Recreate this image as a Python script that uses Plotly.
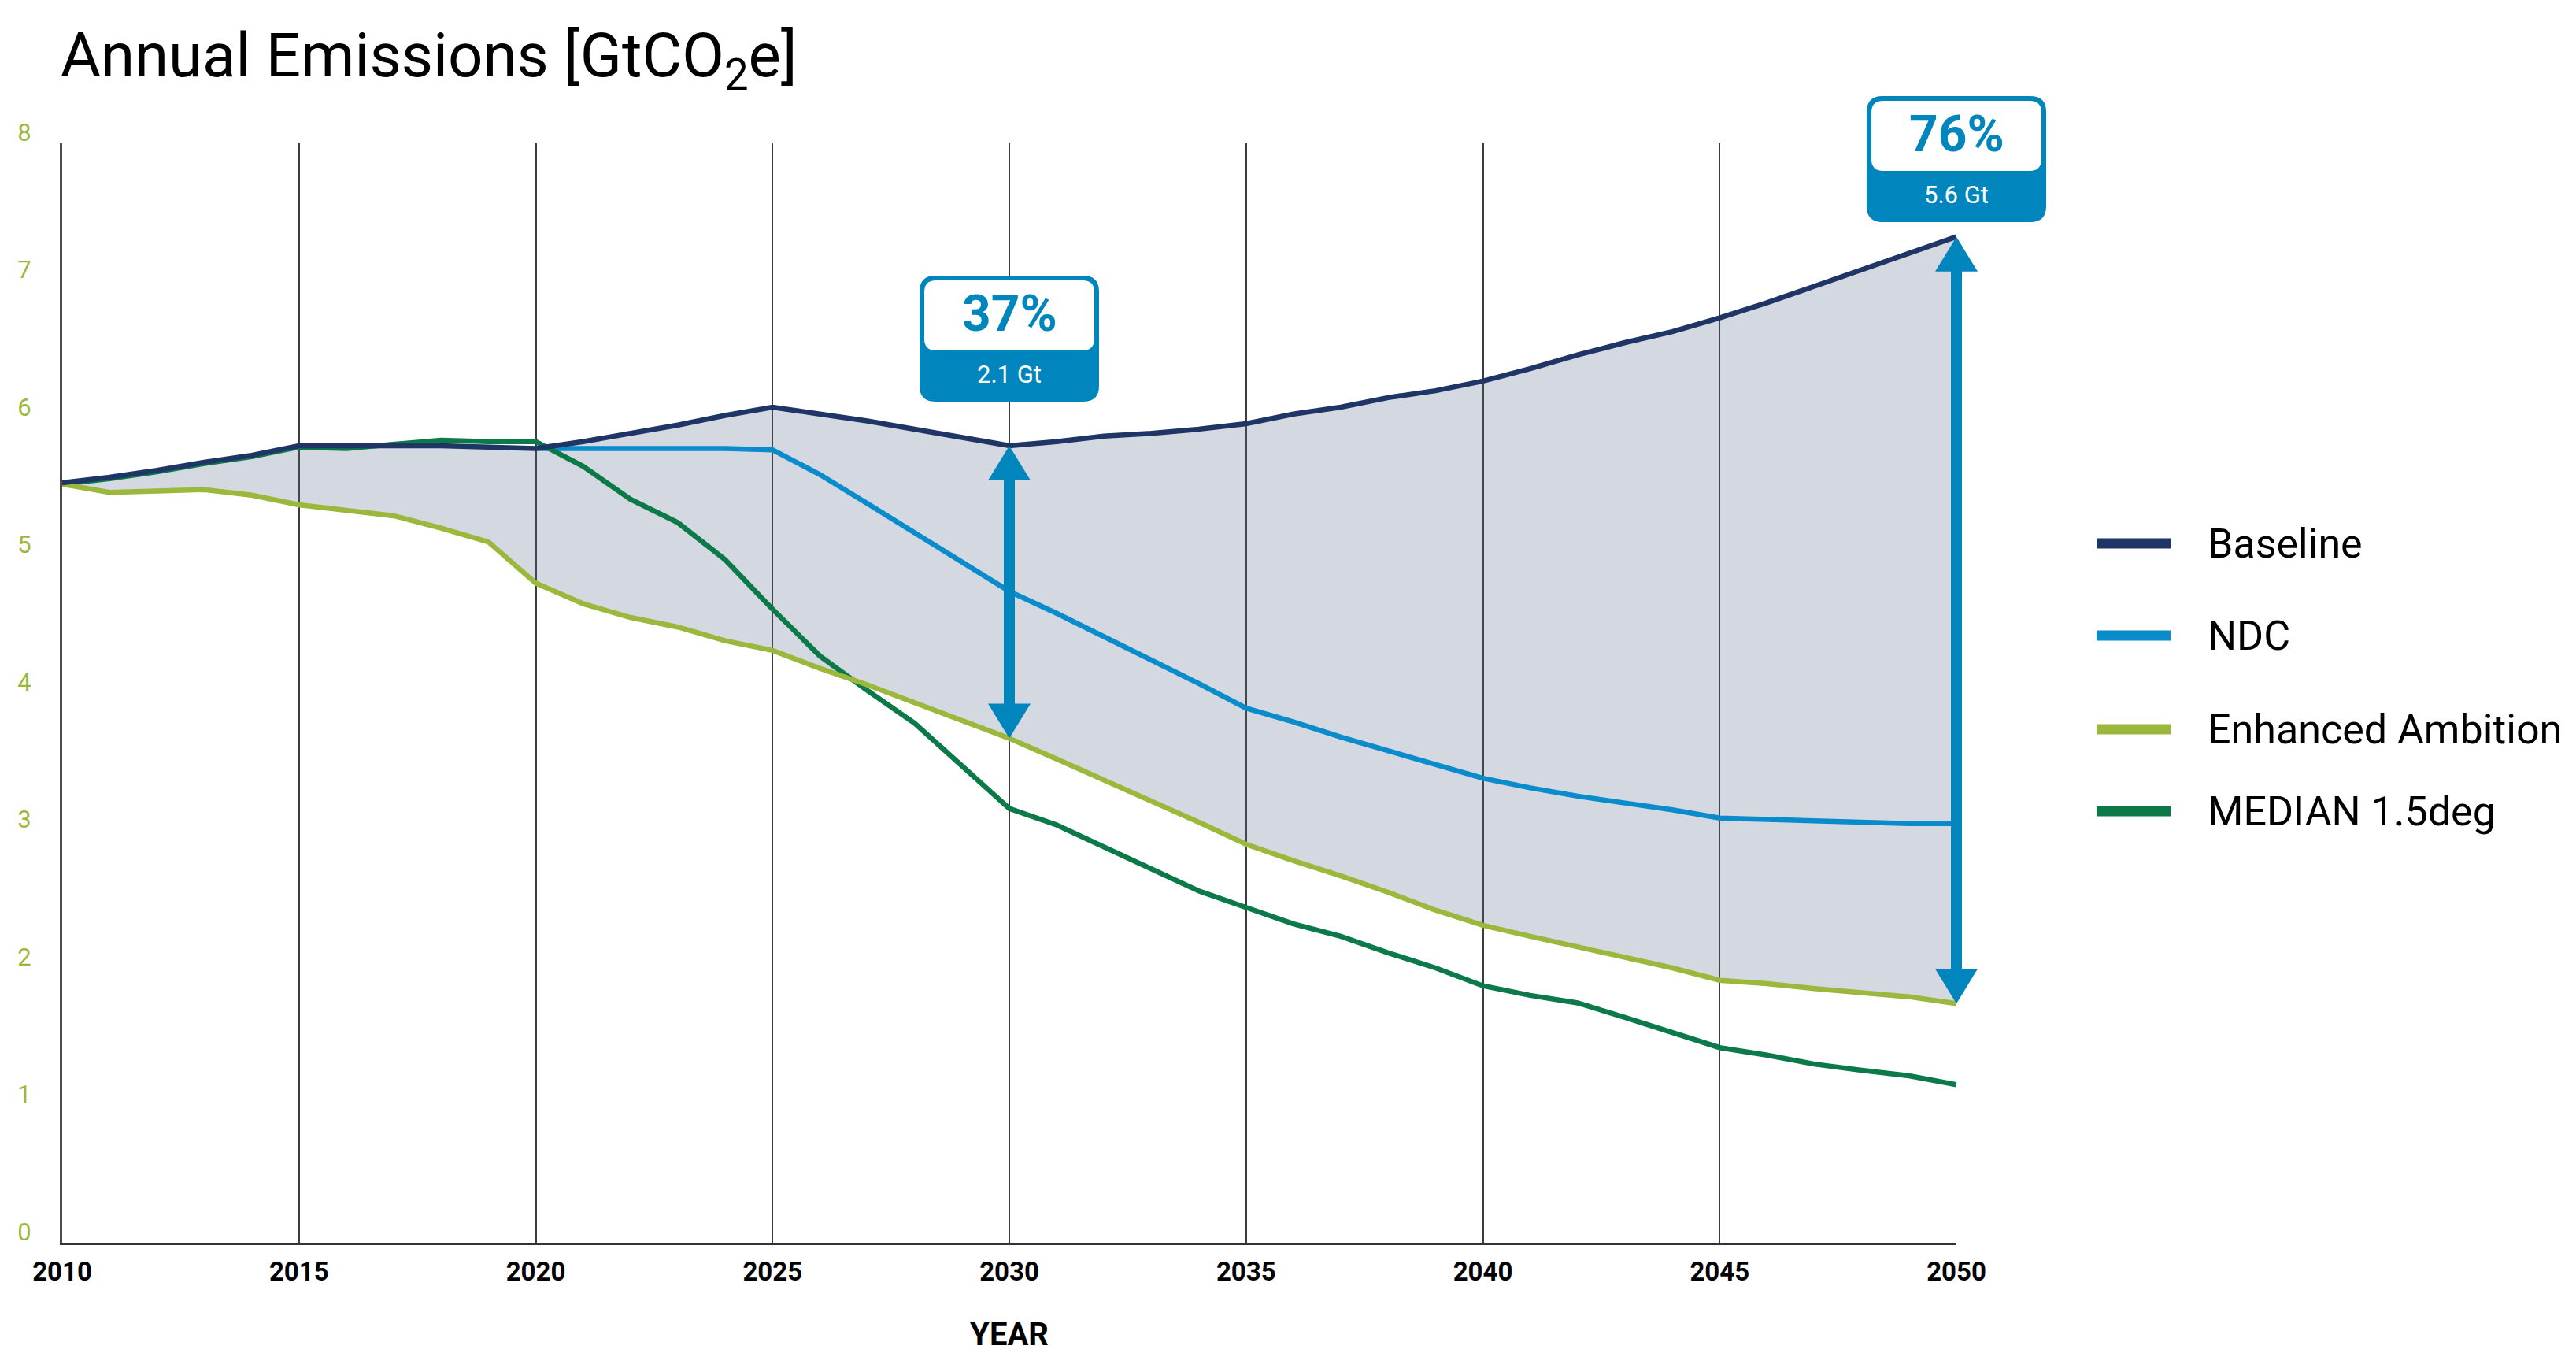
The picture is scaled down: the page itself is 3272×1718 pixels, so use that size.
import plotly.graph_objects as go

# ---- data -------------------------------------------------------------
years = list(range(2010, 2051))

baseline = [5.53, 5.57, 5.62, 5.68, 5.73, 5.80, 5.80, 5.80, 5.80, 5.79,
            5.78, 5.83, 5.89, 5.95, 6.02, 6.08, 6.03, 5.98, 5.92, 5.86,
            5.80, 5.83, 5.87, 5.89, 5.92, 5.96, 6.03, 6.08, 6.15, 6.20,
            6.27, 6.36, 6.46, 6.55, 6.63, 6.73, 6.84, 6.96, 7.08, 7.20,
            7.32]

enhanced = [5.52, 5.46, 5.47, 5.48, 5.44, 5.37, 5.33, 5.29, 5.20, 5.10,
            4.80, 4.65, 4.55, 4.48, 4.38, 4.31, 4.18, 4.06, 3.93, 3.80,
            3.67, 3.52, 3.37, 3.22, 3.06, 2.90, 2.78, 2.67, 2.55, 2.42,
            2.31, 2.23, 2.155, 2.075, 2.00, 1.91, 1.885, 1.85, 1.82, 1.79,
            1.74]

median_15 = [5.52, 5.56, 5.61, 5.67, 5.72, 5.79, 5.78, 5.81, 5.84, 5.83,
             5.83, 5.65, 5.41, 5.24, 4.97, 4.61, 4.27, 4.02, 3.78, 3.47,
             3.16, 3.04, 2.88, 2.71, 2.56, 2.44, 2.32, 2.23, 2.11, 2.00,
             1.87, 1.80, 1.745, 1.64, 1.53, 1.42, 1.365, 1.30, 1.255, 1.215,
             1.15]

ndc_years = list(range(2020, 2051))
ndc = [5.78, 5.78, 5.78, 5.78, 5.78, 5.77, 5.59, 5.38, 5.17, 4.95,
       4.74, 4.58, 4.41, 4.25, 4.07, 3.89, 3.79, 3.68, 3.58, 3.485,
       3.38, 3.31, 3.25, 3.20, 3.15, 3.09, 3.08, 3.07, 3.06, 3.05,
       3.05]

gap_years = [2030, 2050]          # years where the ambition gap is called out
x_ticks = list(range(2010, 2051, 5))
y_ticks = list(range(0, 9))

series = [
    ("Baseline", "#1f3566"),
    ("NDC", "#0a8bcc"),
    ("Enhanced Ambition", "#9cb83c"),
    ("MEDIAN 1.5deg", "#0b7a48"),
]
COL = dict(series)
CALLOUT = "#0086bd"
TICK_GREEN = "#9cb83c"
FONT = "Roboto, Liberation Sans, sans-serif"

# ---- figure geometry --------------------------------------------------
W, H = 3272, 1718
ML, MR, MT, MB = 79, 787, 182, 140
PW, PH = W - ML - MR, H - MT - MB
Y_PER_PX = (y_ticks[-1] - y_ticks[0]) / PH
HEAD_W, HEAD_L, SHAFT_W = 54, 44, 14


def paper_x(year):
    return (year - x_ticks[0]) / (x_ticks[-1] - x_ticks[0])


def rounded_rect(x0, y0, x1, y1, r):
    return (f"M{x0 + r},{y0} H{x1 - r} Q{x1},{y0} {x1},{y0 + r} "
            f"V{y1 - r} Q{x1},{y1} {x1 - r},{y1} H{x0 + r} "
            f"Q{x0},{y1} {x0},{y1 - r} V{y0 + r} Q{x0},{y0} {x0 + r},{y0} Z")


fig = go.Figure()

# shaded band between the baseline and the enhanced-ambition pathway
fig.add_trace(go.Scatter(x=years, y=enhanced, mode="lines",
                         line=dict(width=0, color="rgba(0,0,0,0)"),
                         showlegend=False, hoverinfo="skip"))
fig.add_trace(go.Scatter(x=years, y=baseline, mode="lines", fill="tonexty",
                         fillcolor="rgba(79,99,135,0.25)",
                         line=dict(width=0, color="rgba(0,0,0,0)"),
                         showlegend=False, hoverinfo="skip"))

# pathways
fig.add_trace(go.Scatter(x=ndc_years, y=ndc, mode="lines", name="NDC",
                         line=dict(color=COL["NDC"], width=6.5)))
fig.add_trace(go.Scatter(x=years, y=median_15, mode="lines", name="MEDIAN 1.5deg",
                         line=dict(color=COL["MEDIAN 1.5deg"], width=6.5)))
fig.add_trace(go.Scatter(x=years, y=enhanced, mode="lines", name="Enhanced Ambition",
                         line=dict(color=COL["Enhanced Ambition"], width=6.5)))
fig.add_trace(go.Scatter(x=years, y=baseline, mode="lines", name="Baseline",
                         line=dict(color=COL["Baseline"], width=6.5)))

shapes = []
annotations = []

# gap arrows (baseline -> enhanced ambition) and their callout boxes
box_bottom = {2030: (1578 - 510) / PH, 2050: (1578 - 282) / PH}
for yr in gap_years:
    i = years.index(yr)
    top, low = baseline[i], enhanced[i]
    gap = top - low
    pct = round(100 * gap / top)
    xa = paper_x(yr)

    half_head = 0.5 * HEAD_L * Y_PER_PX
    shapes.append(dict(type="line", xref="paper", yref="y",
                       x0=xa, x1=xa, y0=low + half_head, y1=top - half_head,
                       line=dict(color=CALLOUT, width=SHAFT_W), layer="above"))
    shapes.append(dict(type="path", xref="paper", yref="y",
                       xsizemode="pixel", ysizemode="pixel", xanchor=xa, yanchor=top,
                       path=f"M0,0 L{-HEAD_W / 2},{-HEAD_L} L{HEAD_W / 2},{-HEAD_L} Z",
                       fillcolor=CALLOUT, line=dict(width=0), layer="above"))
    shapes.append(dict(type="path", xref="paper", yref="y",
                       xsizemode="pixel", ysizemode="pixel", xanchor=xa, yanchor=low,
                       path=f"M0,0 L{-HEAD_W / 2},{HEAD_L} L{HEAD_W / 2},{HEAD_L} Z",
                       fillcolor=CALLOUT, line=dict(width=0), layer="above"))

    ya = box_bottom[yr]
    shapes.append(dict(type="path", xref="paper", yref="paper",
                       xsizemode="pixel", ysizemode="pixel", xanchor=xa, yanchor=ya,
                       path=rounded_rect(-114, 0, 114, 160, 20),
                       fillcolor=CALLOUT, line=dict(width=0), layer="above"))
    shapes.append(dict(type="path", xref="paper", yref="paper",
                       xsizemode="pixel", ysizemode="pixel", xanchor=xa, yanchor=ya,
                       path=rounded_rect(-108, 65, 108, 154, 15),
                       fillcolor="white", line=dict(width=0), layer="above"))
    annotations.append(dict(x=xa, y=ya, xref="paper", yref="paper", yshift=111,
                            xanchor="center", yanchor="middle", showarrow=False,
                            text=f"<b>{pct}%</b>",
                            font=dict(family=FONT, size=64, color=CALLOUT)))
    annotations.append(dict(x=xa, y=ya, xref="paper", yref="paper", yshift=34,
                            xanchor="center", yanchor="middle", showarrow=False,
                            text=f"{gap:.1f} Gt",
                            font=dict(family=FONT, size=31, color="white")))

# legend drawn with long line keys
legend_y = [(1578 - v) / PH for v in (690, 807, 926, 1030)]
for (name, color), ly in zip(series, legend_y):
    shapes.append(dict(type="line", xref="paper", yref="paper",
                       x0=(2663 - ML) / PW, x1=(2757 - ML) / PW, y0=ly, y1=ly,
                       line=dict(color=color, width=13)))
    annotations.append(dict(x=(2802 - ML) / PW, y=ly, xref="paper", yref="paper",
                            xanchor="left", yanchor="middle", showarrow=False,
                            text=name, font=dict(family=FONT, size=52, color="black")))

fig.update_layout(
    width=W, height=H,
    margin=dict(l=ML, r=MR, t=MT, b=MB),
    paper_bgcolor="white", plot_bgcolor="white",
    showlegend=False,
    title=dict(text="Annual Emissions [GtCO<sub>2</sub>e]",
               x=77 / W, xanchor="left", xref="container",
               y=1 - 70 / H, yanchor="middle", yref="container",
               font=dict(family=FONT, size=78, color="black")),
    shapes=shapes,
    annotations=annotations,
)

fig.update_xaxes(
    range=[x_ticks[0], x_ticks[-1]], tickvals=x_ticks, ticks="",
    showgrid=True, gridcolor="#3c3c3c", gridwidth=1.5,
    showline=True, linecolor="#333333", linewidth=3, zeroline=False,
    tickfont=dict(family=FONT, size=33, color="black", weight="bold"),
    ticklabelstandoff=5, automargin=False,
    title=dict(text="<b>YEAR</b>", standoff=56,
               font=dict(family=FONT, size=40, color="black")),
)
fig.update_yaxes(
    range=[y_ticks[0], y_ticks[-1]], tickvals=y_ticks, ticks="",
    showgrid=False, zeroline=False, automargin=False,
    showline=True, linecolor="#4a4a4a", linewidth=3,
    tickfont=dict(family=FONT, size=31, color=TICK_GREEN),
    ticklabelstandoff=30, ticklabelshift=-14,
)

fig.write_html("out.html")
